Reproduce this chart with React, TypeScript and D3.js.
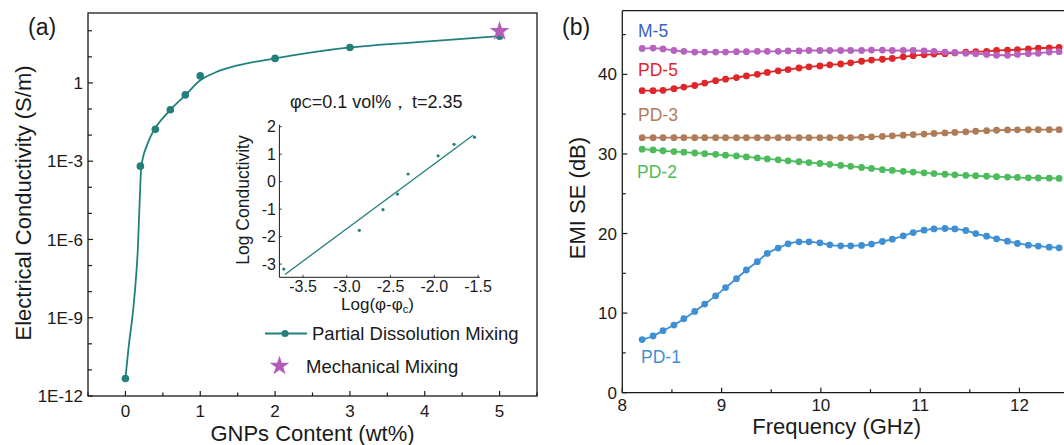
import React from "react";
import * as d3 from "d3";

// ---------- Panel (a) data ----------
const gnpContent = [0, 0.2, 0.4, 0.6, 0.8, 1, 2, 3, 5];
const logConductivity = [-11.33, -3.19, -1.78, -1.03, -0.46, 0.27, 0.94, 1.36, 1.79];
const mechContent = [5];
const mechLogConductivity = [1.98];
const fitContent = [0, 0.04, 0.117, 0.166, 0.19, 0.21, 0.24, 0.28, 0.33, 0.4, 0.5, 0.6, 0.8, 1.0, 1.2, 1.5, 2, 3, 4, 5];
const fitLogConductivity = [-11.33, -10.2, -8.3, -6.35, -4.6, -3.3, -2.8, -2.45, -2.1, -1.72, -1.35, -1.03, -0.47, 0.1, 0.4, 0.67, 0.94, 1.36, 1.58, 1.79];
const aYTickExp = [0, -3, -6, -9, -12];
const aYTickLabels = ["1", "1E-3", "1E-6", "1E-9", "1E-12"];
const aXTicks = [0, 1, 2, 3, 4, 5];

// inset
const insetLogPhi = [-3.72, -2.857, -2.586, -2.42, -2.3, -1.957, -1.774, -1.54];
const insetLogSigma = [-3.18, -1.77, -1.02, -0.45, 0.28, 0.94, 1.36, 1.62];
const insetFitX = [-3.706, -1.557];
const insetFitY = [-3.375, 1.69];
const insetXTicks = [-3.5, -3.0, -2.5, -2.0, -1.5];
const insetYTicks = [-3, -2, -1, 0, 1, 2];

// ---------- Panel (b) data ----------
const frequency = [8.2, 8.31, 8.41, 8.52, 8.62, 8.73, 8.83, 8.94, 9.04, 9.15, 9.25, 9.36, 9.46, 9.57, 9.67, 9.78, 9.88, 9.99, 10.09, 10.2, 10.3, 10.41, 10.51, 10.62, 10.72, 10.83, 10.93, 11.04, 11.14, 11.25, 11.35, 11.46, 11.56, 11.67, 11.77, 11.88, 11.98, 12.09, 12.19, 12.3, 12.4];
const seM5 = [43.25, 43.3, 43.2, 43.0, 42.9, 42.8, 42.8, 42.8, 42.8, 42.85, 42.85, 42.9, 42.9, 42.9, 42.95, 42.95, 43.0, 43.0, 43.0, 43.0, 43.0, 43.0, 43.05, 43.05, 43.0, 43.0, 43.0, 42.95, 42.9, 42.8, 42.75, 42.65, 42.6, 42.5, 42.4, 42.4, 42.5, 42.6, 42.65, 42.8, 42.85];
const sePD5 = [37.95, 37.95, 38.0, 38.2, 38.4, 38.6, 38.9, 39.2, 39.4, 39.6, 39.8, 40.0, 40.25, 40.45, 40.6, 40.8, 40.95, 41.05, 41.2, 41.3, 41.45, 41.65, 41.8, 41.9, 42.0, 42.2, 42.35, 42.45, 42.55, 42.6, 42.7, 42.8, 42.85, 42.9, 43.0, 43.05, 43.1, 43.2, 43.3, 43.33, 43.4];
const sePD3 = [32.05, 32.05, 32.05, 32.05, 32.05, 32.05, 32.05, 32.05, 32.05, 32.05, 32.05, 32.05, 32.05, 32.05, 32.05, 32.05, 32.05, 32.05, 32.05, 32.05, 32.06, 32.1, 32.15, 32.2, 32.28, 32.36, 32.43, 32.5, 32.57, 32.64, 32.7, 32.78, 32.85, 32.92, 32.98, 33.02, 33.03, 33.04, 33.05, 33.05, 33.05];
const sePD2 = [30.6, 30.5, 30.4, 30.3, 30.22, 30.12, 30.03, 29.95, 29.85, 29.75, 29.63, 29.5, 29.38, 29.26, 29.14, 29.02, 28.92, 28.8, 28.7, 28.56, 28.45, 28.3, 28.18, 28.03, 27.93, 27.82, 27.72, 27.63, 27.53, 27.45, 27.38, 27.3, 27.26, 27.2, 27.15, 27.1, 27.05, 27.0, 26.98, 26.95, 26.92];
const sePD1 = [6.67, 7.13, 7.79, 8.5, 9.29, 10.21, 11.13, 12.17, 13.21, 14.33, 15.42, 16.46, 17.5, 18.17, 18.71, 18.96, 18.96, 18.83, 18.58, 18.46, 18.46, 18.5, 18.67, 19.0, 19.29, 19.71, 20.12, 20.42, 20.58, 20.63, 20.58, 20.38, 20.0, 19.67, 19.33, 19.04, 18.75, 18.54, 18.42, 18.29, 18.2];
const bSeriesNames = ["PD-1", "PD-2", "PD-3", "PD-5", "M-5"];
const bYTicks = [0, 10, 20, 30, 40];
const bXTicks = [8, 9, 10, 11, 12];

const FONT = "'Liberation Sans', Arial, Helvetica, sans-serif";
const AXIS = "#1a1a1a";
const TEAL = "#22807c";
const STAR = "#b35cb8";

const seriesStyle: Record<string, { color: string; labelColor: string; lx: number; ly: number }> = {
  "PD-1": { color: "#3f8fd5", labelColor: "#3f8fd5", lx: 641, ly: 357 },
  "PD-2": { color: "#4cbb5c", labelColor: "#4cbb5c", lx: 637, ly: 172 },
  "PD-3": { color: "#b07c58", labelColor: "#b07c58", lx: 638, ly: 115 },
  "PD-5": { color: "#df2628", labelColor: "#df2628", lx: 638, ly: 70 },
  "M-5": { color: "#b862bf", labelColor: "#3b62c0", lx: 638, ly: 31 },
};
const seriesData: Record<string, number[]> = { "PD-1": sePD1, "PD-2": sePD2, "PD-3": sePD3, "PD-5": sePD5, "M-5": seM5 };

export default function App() {
  // panel a scales
  const ax = d3.scaleLinear().domain([-0.5, 5.5]).range([88, 537]);
  const ay = d3.scaleLog().domain([1e-12, Math.pow(10, 2.68)]).range([396, 13]);
  const aLine = d3
    .line<[number, number]>()
    .x((d) => ax(d[0]))
    .y((d) => ay(Math.pow(10, d[1])))
    .curve(d3.curveMonotoneX);
  const fitPts: [number, number][] = fitContent.map((x, i) => [x, fitLogConductivity[i]]);

  const decades = d3.range(-12, 3);
  const aMinorX = d3.range(-0.5, 5.51, 0.5);

  // inset scales
  const ix = d3.scaleLinear().domain([-3.77, -1.48]).range([279.4, 479.8]);
  const iy = d3.scaleLinear().domain([-3.48, 2.07]).range([277.3, 124.8]);

  // panel b scales
  const bx = d3.scaleLinear().domain([8, 12.56]).range([622.3, 1075]);
  const by = d3.scaleLinear().domain([0, 48]).range([392.7, 10.7]);
  const bLine = d3
    .line<number>()
    .x((_, i) => bx(frequency[i]))
    .y((d) => by(d))
    .curve(d3.curveMonotoneX);
  const bMinorY = d3.range(0, 46, 5);
  const bMinorX = d3.range(8, 12.6, 0.5);

  const starPath = d3.symbol(d3.symbolStar, 120)() as string;

  return (
    <svg
      width={1064}
      height={445}
      style={{ position: "absolute", left: 0, top: 0, background: "#fff" }}
      fontFamily={FONT}
    >
      {/* ================= Panel (a) ================= */}
      <text x={28} y={35} fontSize={23} fill={AXIS}>(a)</text>
      <rect x={ax(-0.5)} y={ay(Math.pow(10, 2.68))} width={ax(5.5) - ax(-0.5)} height={ay(1e-12) - ay(Math.pow(10, 2.68))} fill="none" stroke={AXIS} strokeWidth={1.3} />
      {decades.map((e) => (
        <line key={"ady" + e} x1={ax(-0.5)} x2={ax(-0.5) + (e % 3 === 0 ? 5 : 4)} y1={ay(Math.pow(10, e))} y2={ay(Math.pow(10, e))} stroke={AXIS} strokeWidth={1.2} />
      ))}
      {aYTickExp.map((e, i) => (
        <text key={"adyl" + e} x={83} y={ay(Math.pow(10, e))} dy="0.36em" textAnchor="end" fontSize={17} fill={AXIS}>
          {aYTickLabels[i]}
        </text>
      ))}
      {aMinorX.map((v) => (
        <line key={"adx" + v} x1={ax(v)} x2={ax(v)} y1={396} y2={396 - (Math.abs(v - Math.round(v)) < 0.01 ? 5 : 3.5)} stroke={AXIS} strokeWidth={1.2} />
      ))}
      {aXTicks.map((v) => (
        <text key={"adxl" + v} x={ax(v)} y={417} textAnchor="middle" fontSize={17} fill={AXIS}>
          {v}
        </text>
      ))}
      <text x={312.5} y={441} textAnchor="middle" fontSize={22} fill={AXIS}>GNPs Content (wt%)</text>
      <text transform="translate(31,203) rotate(-90)" textAnchor="middle" fontSize={22} fill={AXIS}>Electrical Conductivity (S/m)</text>

      <path d={aLine(fitPts) as string} fill="none" stroke={TEAL} strokeWidth={1.8} />
      {gnpContent.map((x, i) => (
        <circle key={"ap" + i} cx={ax(x)} cy={ay(Math.pow(10, logConductivity[i]))} r={3.8} fill={TEAL} />
      ))}
      {mechContent.map((x, i) => (
        <path key={"ms" + i} d={starPath} transform={`translate(${ax(x)},${ay(Math.pow(10, mechLogConductivity[i]))})`} fill={STAR} />
      ))}

      {/* legend */}
      <line x1={265} x2={307} y1={333.5} y2={333.5} stroke={TEAL} strokeWidth={1.8} />
      <circle cx={285} cy={333.5} r={3.6} fill={TEAL} />
      <text x={312} y={333.5} dy="0.36em" fontSize={18.5} fill={AXIS}>Partial Dissolution Mixing</text>
      <path d={starPath} transform="translate(279.5,366)" fill={STAR} />
      <text x={306} y={366} dy="0.36em" fontSize={18.5} fill={AXIS}>Mechanical Mixing</text>

      {/* inset */}
      <text x={290} y={108} fontSize={18} fill={AXIS}>
        <tspan>φ</tspan>
        <tspan fontSize={14}>C</tspan>
        <tspan>=0.1 vol%，</tspan>
        <tspan x={412}>t=2.35</tspan>
      </text>
      <line x1={ix(-3.77)} x2={ix(-3.77)} y1={iy(-3.48)} y2={iy(2.07)} stroke={AXIS} strokeWidth={1} />
      <line x1={ix(-3.77)} x2={ix(-1.48)} y1={iy(-3.48)} y2={iy(-3.48)} stroke={AXIS} strokeWidth={1} />
      {insetYTicks.map((v) => (
        <g key={"iyt" + v}>
          <line x1={ix(-3.77)} x2={ix(-3.77) + 2.5} y1={iy(v)} y2={iy(v)} stroke={AXIS} strokeWidth={0.8} />
          <text x={276} y={iy(v)} dy="0.36em" textAnchor="end" fontSize={16} fill={AXIS}>{v}</text>
        </g>
      ))}
      {insetXTicks.map((v) => (
        <g key={"ixt" + v}>
          <line x1={ix(v)} x2={ix(v)} y1={iy(-3.48)} y2={iy(-3.48) - 2.5} stroke={AXIS} strokeWidth={0.8} />
          <text x={ix(v)} y={292} textAnchor="middle" fontSize={16} fill={AXIS}>{v.toFixed(1)}</text>
        </g>
      ))}
      <text transform="translate(249,200) rotate(-90)" textAnchor="middle" fontSize={17.5} fill={AXIS}>Log Conductivity</text>
      <text x={377.5} y={310} textAnchor="middle" fontSize={17} fill={AXIS}>
        Log(φ-φ<tspan fontSize={11} dy={3}>c</tspan><tspan dy={-3}>)</tspan>
      </text>
      <line x1={ix(insetFitX[0])} y1={iy(insetFitY[0])} x2={ix(insetFitX[1])} y2={iy(insetFitY[1])} stroke={TEAL} strokeWidth={1.3} />
      {insetLogPhi.map((x, i) => (
        <circle key={"ip" + i} cx={ix(x)} cy={iy(insetLogSigma[i])} r={1.6} fill={TEAL} />
      ))}

      {/* ================= Panel (b) ================= */}
      <text x={562} y={35} fontSize={23} fill={AXIS}>(b)</text>
      <line x1={bx(8)} x2={bx(8)} y1={by(0)} y2={by(48)} stroke={AXIS} strokeWidth={1.3} />
      <line x1={bx(8)} x2={1070} y1={by(0)} y2={by(0)} stroke={AXIS} strokeWidth={1.3} />
      <line x1={bx(8)} x2={1070} y1={by(48)} y2={by(48)} stroke={AXIS} strokeWidth={1.3} />
      {bMinorY.map((v) => (
        <line key={"bym" + v} x1={bx(8)} x2={bx(8) + (v % 10 === 0 ? 5 : 3.5)} y1={by(v)} y2={by(v)} stroke={AXIS} strokeWidth={1.2} />
      ))}
      {bYTicks.map((v) => (
        <text key={"byl" + v} x={617} y={by(v)} dy="0.36em" textAnchor="end" fontSize={17} fill={AXIS}>{v}</text>
      ))}
      {bMinorX.map((v) => (
        <line key={"bxm" + v} x1={bx(v)} x2={bx(v)} y1={by(0)} y2={by(0) - (Math.abs(v - Math.round(v)) < 0.01 ? 5 : 3.5)} stroke={AXIS} strokeWidth={1.2} />
      ))}
      {bXTicks.map((v) => (
        <text key={"bxl" + v} x={bx(v)} y={411} textAnchor="middle" fontSize={17} fill={AXIS}>{v}</text>
      ))}
      <text x={836.7} y={434} textAnchor="middle" fontSize={22} fill={AXIS}>Frequency (GHz)</text>
      <text transform="translate(585,198) rotate(-90)" textAnchor="middle" fontSize={22} fill={AXIS}>EMI SE (dB)</text>

      {bSeriesNames.map((name) => {
        const st = seriesStyle[name];
        const vals = seriesData[name];
        return (
          <g key={name}>
            <path d={bLine(vals) as string} fill="none" stroke={st.color} strokeWidth={1.8} />
            {vals.map((v, i) => (
              <circle key={i} cx={bx(frequency[i])} cy={by(v)} r={3.4} fill={st.color} />
            ))}
            <text x={st.lx} y={st.ly} dy="0.36em" fontSize={17.5} fill={st.labelColor}>{name}</text>
          </g>
        );
      })}
    </svg>
  );
}
